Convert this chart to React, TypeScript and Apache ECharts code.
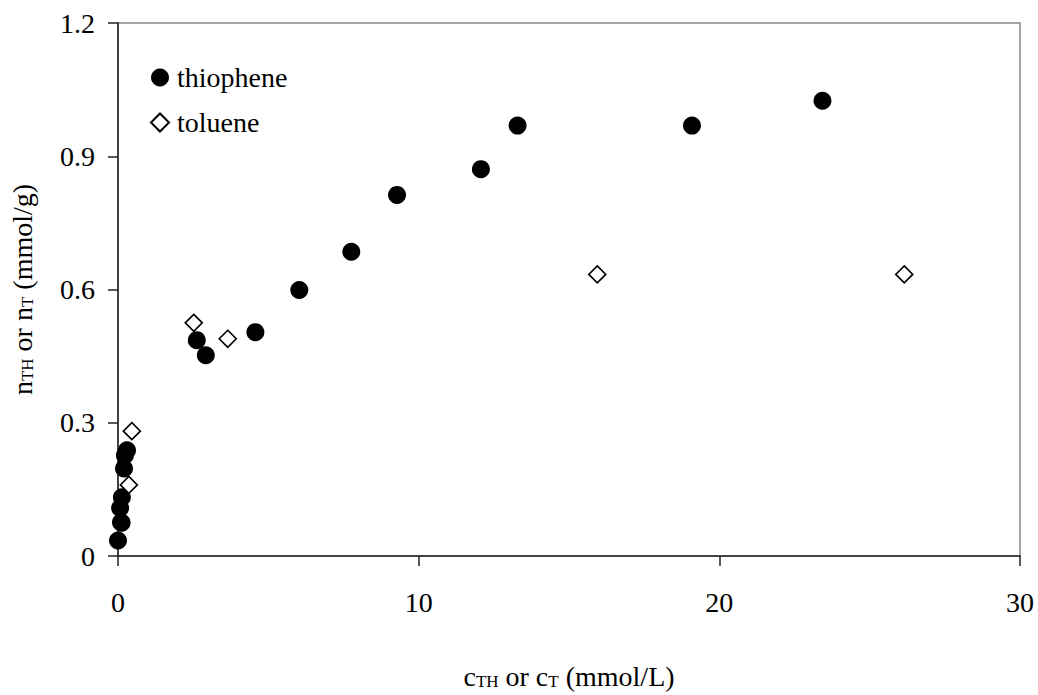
import React, { useEffect, useRef } from "react";
import * as echarts from "echarts";

const thiopheneX = [0.0, 0.12, 0.1, 0.07, 0.13, 0.2, 0.23, 0.3, 2.62, 2.92, 4.57, 6.03, 7.76, 9.28, 12.07, 13.29, 19.09, 23.43];
const thiopheneY = [0.035, 0.075, 0.076, 0.108, 0.132, 0.197, 0.227, 0.238, 0.486, 0.452, 0.504, 0.599, 0.685, 0.813, 0.871, 0.969, 0.969, 1.025];
const tolueneX = [0.36, 0.46, 2.52, 3.65, 15.94, 26.15];
const tolueneY = [0.16, 0.281, 0.525, 0.489, 0.634, 0.634];
const xTicks = [0, 10, 20, 30];
const yTicks = [0, 0.3, 0.6, 0.9, 1.2];

const FONT = "'Liberation Serif', 'Times New Roman', serif";

export default function App() {
  const ref = useRef<HTMLDivElement>(null);
  useEffect(() => {
    if (!ref.current) return;
    const chart = echarts.init(ref.current, null, { renderer: "svg" });
    const richBase = {
      m: { fontSize: 28, fontFamily: FONT, color: "#000", lineHeight: 31, verticalAlign: "bottom" },
      s: { fontSize: 17, fontFamily: FONT, color: "#000", lineHeight: 19, verticalAlign: "bottom" },
    };
    chart.setOption({
      animation: false,
      backgroundColor: "#fff",
      textStyle: { fontFamily: FONT },
      grid: {
        left: 115,
        right: 18,
        top: 23,
        bottom: 117,
        show: true,
        borderColor: "#888",
        borderWidth: 1.5,
        backgroundColor: "transparent",
      },
      legend: {
        orient: "vertical",
        left: 145,
        top: 58,
        itemWidth: 18,
        itemHeight: 18,
        itemGap: 16,
        textStyle: { fontSize: 28, fontFamily: FONT, color: "#000", lineHeight: 29, padding: [0, 0, 0, 3] },
        data: [
          { name: "thiophene", icon: "circle" },
          { name: "toluene", icon: "diamond" },
        ],
      },
      xAxis: {
        type: "value",
        min: xTicks[0],
        max: xTicks[xTicks.length - 1],
        interval: xTicks[1] - xTicks[0],
        splitLine: { show: false },
        axisLine: { onZero: false, lineStyle: { color: "#222", width: 1.5 } },
        axisTick: { show: true, length: 10, lineStyle: { color: "#222", width: 1.5 } },
        axisLabel: { fontSize: 28, fontFamily: FONT, color: "#000", margin: 32 },
        name: "{m|c}{s|TH}{m| or c}{s|T}{m| (mmol/L)}",
        nameLocation: "middle",
        nameGap: 103,
        nameTextStyle: { rich: richBase },
      },
      yAxis: {
        type: "value",
        min: yTicks[0],
        max: yTicks[yTicks.length - 1],
        interval: yTicks[1] - yTicks[0],
        splitLine: { show: false },
        axisLine: { onZero: false, lineStyle: { color: "#222", width: 1.5 } },
        axisTick: { show: true, length: 10, lineStyle: { color: "#222", width: 1.5 } },
        axisLabel: { fontSize: 28, fontFamily: FONT, color: "#000", margin: 23 },
        name: "{m|n}{s|TH}{m| or n}{s|T}{m| (mmol/g)}",
        nameLocation: "middle",
        nameGap: 82,
        nameRotate: 90,
        nameTextStyle: { rich: richBase },
      },
      series: [
        {
          name: "thiophene",
          type: "scatter",
          symbol: "circle",
          symbolSize: 18,
          itemStyle: { color: "#000", opacity: 1 },
          data: thiopheneX.map((x, i) => [x, thiopheneY[i]]),
        },
        {
          name: "toluene",
          type: "scatter",
          symbol: "diamond",
          symbolSize: 17,
          itemStyle: { color: "#fff", borderColor: "#000", borderWidth: 1.6, opacity: 1 },
          data: tolueneX.map((x, i) => [x, tolueneY[i]]),
        },
      ],
    });
    return () => chart.dispose();
  }, []);
  return (
    <div
      ref={ref}
      style={{ position: "fixed", left: 0, top: 0, width: 1038, height: 695, background: "#fff" }}
    />
  );
}
